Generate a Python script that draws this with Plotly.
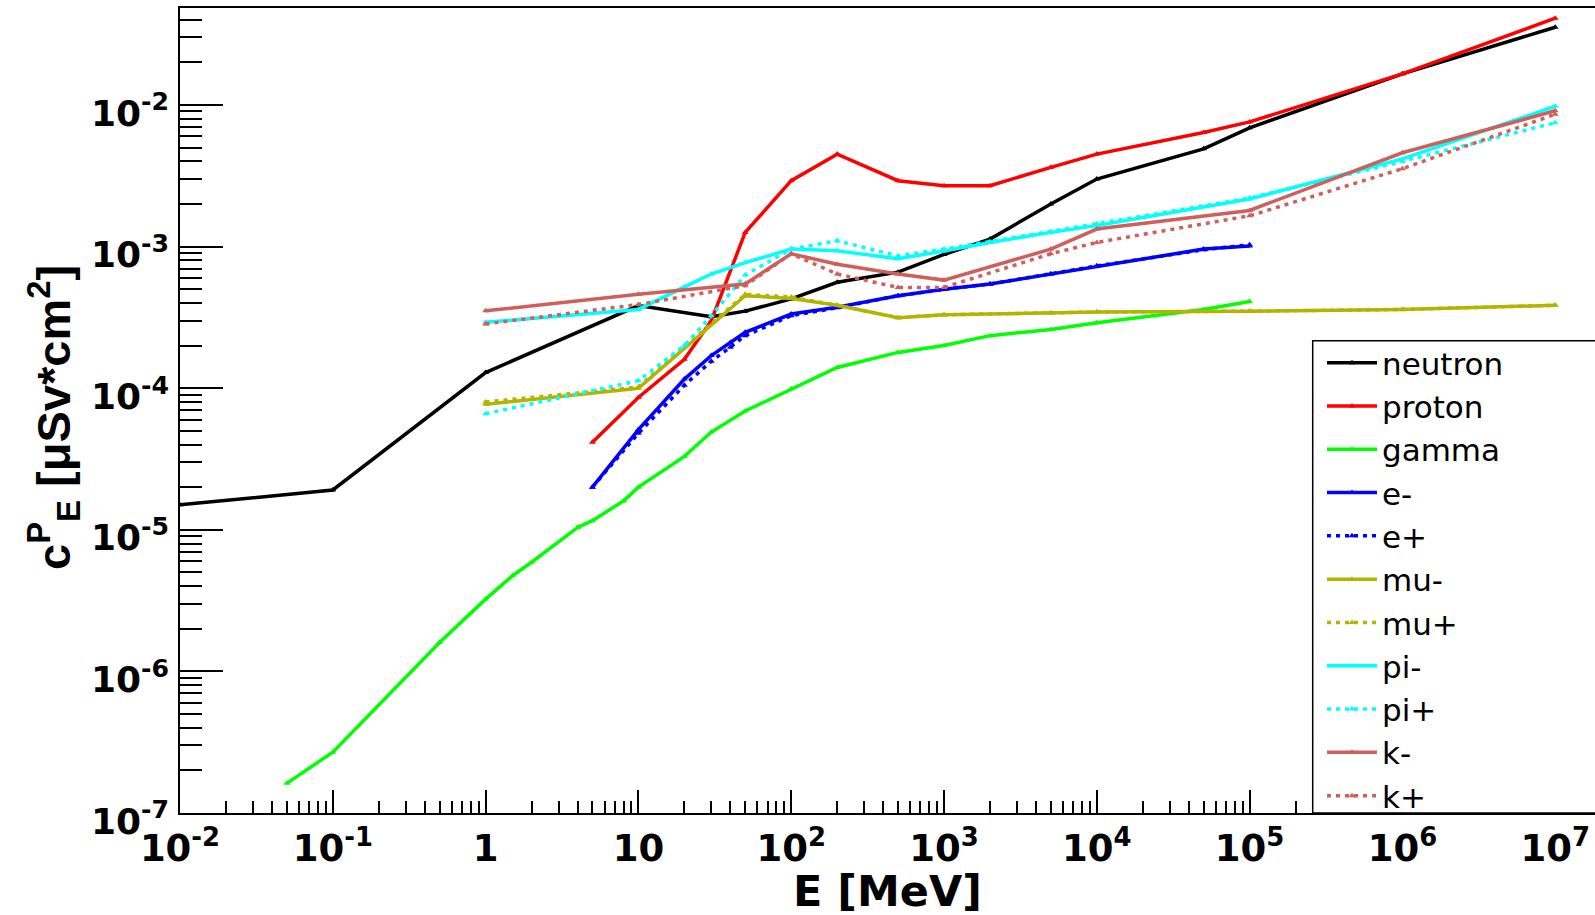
import plotly.graph_objects as go

# ---------------- data (E in MeV, coefficient in uSv*cm^2) ----------------
neutron_E = [0.01, 0.1, 1, 10, 30, 50, 100, 200, 500, 1000, 2000, 5000, 1e4, 5e4, 1e5, 1e6, 1e7]
neutron_c = [1.5e-5, 1.91e-5, 1.29e-4, 3.83e-4, 3.2e-4, 3.5e-4, 4.27e-4, 5.6e-4, 6.6e-4, 8.8e-4,
             1.13e-3, 2.0e-3, 3.0e-3, 4.9e-3, 6.9e-3, 1.66e-2, 3.54e-2]

proton_E = [5, 10, 20, 30, 50, 100, 200, 500, 1000, 2000, 5000, 1e4, 5e4, 1e5, 1e6, 1e7]
proton_c = [4.15e-5, 8.6e-5, 1.6e-4, 3.0e-4, 1.26e-3, 2.92e-3, 4.5e-3, 2.92e-3, 2.69e-3, 2.69e-3,
            3.63e-3, 4.5e-3, 6.4e-3, 7.6e-3, 1.66e-2, 4.1e-2]

gamma_E = [0.05, 0.1, 0.5, 1, 1.5, 2, 4, 5, 8, 10, 20, 30, 50, 100, 200, 500, 1000, 2000,
           5000, 1e4, 5e4, 1e5]
gamma_c = [1.62e-7, 2.69e-7, 1.6e-6, 3.24e-6, 4.74e-6, 5.9e-6, 1.04e-5, 1.16e-5, 1.6e-5, 2.0e-5,
           3.3e-5, 4.9e-5, 6.9e-5, 9.9e-5, 1.4e-4, 1.79e-4, 2.0e-4, 2.35e-4, 2.6e-4, 2.9e-4,
           3.6e-4, 4.1e-4]

eminus_E = [5, 10, 20, 30, 40, 50, 100, 200, 500, 1000, 2000, 5000, 1e4, 5e4, 1e5]
eminus_c = [2.0e-5, 5.1e-5, 1.16e-4, 1.7e-4, 2.1e-4, 2.48e-4, 3.34e-4, 3.73e-4, 4.5e-4, 5.0e-4,
            5.44e-4, 6.4e-4, 7.3e-4, 9.6e-4, 1.01e-3]
eplus_E = [5, 10, 20, 30, 40, 50, 100, 200, 500, 1000, 2000, 5000, 1e4, 5e4, 1e5]
eplus_c = [2.0e-5, 4.8e-5, 1.05e-4, 1.55e-4, 1.95e-4, 2.35e-4, 3.25e-4, 3.7e-4, 4.5e-4, 5.0e-4,
           5.44e-4, 6.4e-4, 7.3e-4, 9.5e-4, 1.03e-3]

muminus_E = [1, 10, 50, 100, 200, 500, 1000, 5000, 1e4, 1e5, 1e6, 1e7]
muminus_c = [7.7e-5, 1.0e-4, 4.5e-4, 4.3e-4, 3.85e-4, 3.15e-4, 3.3e-4, 3.4e-4, 3.45e-4, 3.5e-4,
             3.6e-4, 3.85e-4]
muplus_E = [1, 10, 50, 100, 200, 500, 1000, 5000, 1e4, 1e5, 1e6, 1e7]
muplus_c = [8.0e-5, 1.02e-4, 4.6e-4, 4.4e-4, 3.85e-4, 3.15e-4, 3.3e-4, 3.4e-4, 3.45e-4, 3.5e-4,
            3.6e-4, 3.85e-4]

piminus_E = [1, 10, 20, 30, 50, 100, 200, 500, 1000, 2000, 5000, 1e4, 1e5, 1e6, 1e7]
piminus_c = [2.92e-4, 3.6e-4, 5.2e-4, 6.4e-4, 7.7e-4, 9.6e-4, 9.35e-4, 8.2e-4, 9.3e-4, 1.07e-3,
             1.26e-3, 1.41e-3, 2.17e-3, 4.16e-3, 9.8e-3]
piplus_E = [1, 10, 20, 30, 50, 100, 200, 500, 1000, 2000, 5000, 1e4, 1e5, 1e6, 1e7]
piplus_c = [6.6e-5, 1.13e-4, 2.0e-4, 3.25e-4, 6.3e-4, 9.6e-4, 1.1e-3, 8.6e-4, 9.6e-4, 1.08e-3,
            1.28e-3, 1.45e-3, 2.2e-3, 4.0e-3, 7.5e-3]

kminus_E = [1, 10, 50, 100, 200, 500, 1000, 5000, 1e4, 1e5, 1e6, 1e7]
kminus_c = [3.52e-4, 4.6e-4, 5.45e-4, 8.9e-4, 7.5e-4, 6.4e-4, 5.8e-4, 9.6e-4, 1.33e-3, 1.8e-3,
            4.6e-3, 9.1e-3]
kplus_E = [1, 10, 50, 100, 200, 500, 1000, 5000, 1e4, 1e5, 1e6, 1e7]
kplus_c = [2.84e-4, 3.9e-4, 5.3e-4, 8.9e-4, 6.4e-4, 5.15e-4, 5.15e-4, 8.9e-4, 1.07e-3, 1.65e-3,
           3.55e-3, 8.6e-3]

x_tickvals = [1e-2, 1e-1, 1, 10, 1e2, 1e3, 1e4, 1e5, 1e6, 1e7]
x_ticktext = ["10<sup>-2</sup>", "10<sup>-1</sup>", "1", "10", "10<sup>2</sup>", "10<sup>3</sup>",
              "10<sup>4</sup>", "10<sup>5</sup>", "10<sup>6</sup>", "10<sup>7</sup>"]
y_tickvals = [1e-7, 1e-6, 1e-5, 1e-4, 1e-3, 1e-2]
y_ticktext = ["10<sup>-7</sup>", "10<sup>-6</sup>", "10<sup>-5</sup>", "10<sup>-4</sup>",
              "10<sup>-3</sup>", "10<sup>-2</sup>"]

# ---------------- styling ----------------
OLIVE = "#b4b400"
SALMON = "#cf5f5a"
DOT = "4px,5px"

series = [
    ("neutron", neutron_E, neutron_c, "#000000", "solid"),
    ("proton", proton_E, proton_c, "#ff0000", "solid"),
    ("gamma", gamma_E, gamma_c, "#00ff00", "solid"),
    ("e-", eminus_E, eminus_c, "#0000ff", "solid"),
    ("e+", eplus_E, eplus_c, "#0000ff", DOT),
    ("mu-", muminus_E, muminus_c, OLIVE, "solid"),
    ("mu+", muplus_E, muplus_c, OLIVE, DOT),
    ("pi-", piminus_E, piminus_c, "#00ffff", "solid"),
    ("pi+", piplus_E, piplus_c, "#00ffff", DOT),
    ("k-", kminus_E, kminus_c, SALMON, "solid"),
    ("k+", kplus_E, kplus_c, SALMON, DOT),
]

BOLD = "DejaVu Sans, Liberation Sans, Arial, sans-serif"
NARROW = "Liberation Sans, Arial, Helvetica, sans-serif"
LEG = "DejaVu Sans, Liberation Sans, Arial, sans-serif"

fig = go.Figure()
for name, xs, ys, col, dash in series:
    fig.add_trace(go.Scatter(
        x=xs, y=ys, name=name, mode="lines+markers",
        line=dict(color=col, width=3.5, dash=dash),
        marker=dict(symbol="triangle-up", size=6, color=col),
    ))

W, H = 1595, 915
L, R, T, B = 180, 0, 8, 102
plot_w = W - L - R
plot_h = H - T - B
x_dec = 152.8
y_dec = 141.6
x_range = [-2, -2 + plot_w / x_dec]
y_range = [-7, -7 + plot_h / y_dec]

minor_x = [m * 10 ** d for d in range(-2, 8) for m in range(2, 10)]
minor_y = [m * 10 ** d for d in range(-7, -1) for m in range(2, 10)]

fig.update_layout(
    width=W, height=H,
    margin=dict(l=L, r=R, t=T, b=B, pad=0),
    paper_bgcolor="white", plot_bgcolor="white",
    font=dict(family=BOLD, color="black"),
    showlegend=True,
    legend=dict(
        x=(1322 - L) / plot_w, y=(H - B - 336) / plot_h,
        xanchor="left", yanchor="top",
        bgcolor="rgba(0,0,0,0)", borderwidth=0,
        font=dict(family=LEG, size=31, color="black"),
        itemwidth=50, tracegroupgap=0,
    ),
    xaxis=dict(
        type="log", range=x_range,
        tickmode="array", tickvals=x_tickvals, ticktext=x_ticktext,
        ticks="inside", ticklen=23, tickwidth=1.5, tickcolor="black",
        showline=True, linecolor="black", linewidth=1.5, mirror=True,
        showgrid=False, zeroline=False, ticklabelstandoff=2,
        tickfont=dict(family=BOLD, size=37, color="black", weight="bold"),
        minor=dict(tickmode="array", tickvals=minor_x, ticks="inside", ticklen=12,
                   tickwidth=1.5, tickcolor="black", showgrid=False),
    ),
    yaxis=dict(
        type="log", range=y_range,
        tickmode="array", tickvals=y_tickvals, ticktext=y_ticktext,
        ticks="inside", ticklen=43, tickwidth=1.5, tickcolor="black",
        showline=True, linecolor="black", linewidth=1.5, mirror=False,
        showgrid=False, zeroline=False, ticklabelshift=8, ticklabelstandoff=2,
        tickfont=dict(family=BOLD, size=36, color="black", weight="bold"),
        minor=dict(tickmode="array", tickvals=minor_y, ticks="inside", ticklen=22,
                   tickwidth=1.5, tickcolor="black", showgrid=False),
    ),
    shapes=[dict(
        type="rect", xref="paper", yref="paper",
        x0=(1312.7 - L) / plot_w, x1=1.02, y0=0.0, y1=(H - B - 340.7) / plot_h,
        line=dict(color="black", width=1.5), fillcolor="white", layer="above",
    )],
    annotations=[
        dict(text="E [MeV]", xref="paper", yref="paper", x=0.5,
             y=(H - B - 891) / plot_h, xanchor="center", yanchor="middle",
             showarrow=False, font=dict(family=BOLD, size=43, color="black", weight="bold")),
        dict(text="c<sup>P</sup><sub>E</sub> [μSv*cm<sup>2</sup>]", xref="paper", yref="paper",
             x=(53 - L) / plot_w, y=(H - B - 418) / plot_h, xanchor="center", yanchor="middle",
             textangle=-90, showarrow=False,
             font=dict(family=NARROW, size=47, color="black", weight="bold")),
    ],
)

fig.write_html("out.html", include_plotlyjs=True, config={"displayModeBar": False},
               post_script="document.body.style.margin='0';document.body.style.overflow='hidden';")
